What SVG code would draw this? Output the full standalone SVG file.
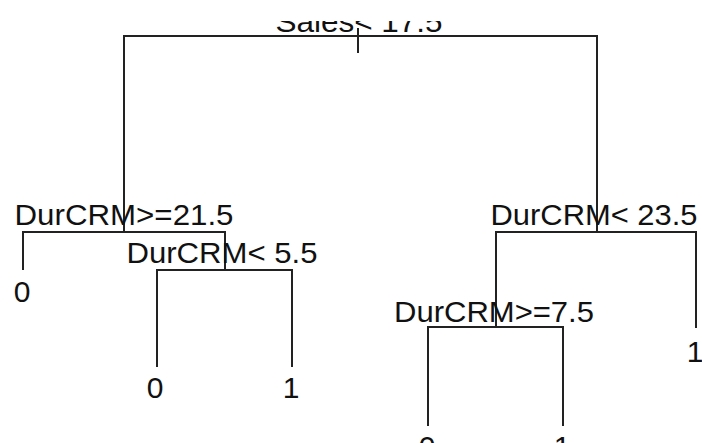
<svg xmlns="http://www.w3.org/2000/svg" width="702" height="443" viewBox="0 0 702 443">
  <style>
    .edge { fill: none; stroke: #222; stroke-width: 2; stroke-linecap: butt; }
    .lbl { font-family: "Liberation Sans", Arial, sans-serif; font-size: 30px; fill: #111; text-anchor: middle; }
  </style>
  <defs>
    <!-- plot region: labels above the top margin are cut off -->
    <clipPath id="plotClip">
      <rect x="0" y="21" width="702" height="422"/>
    </clipPath>
  </defs>
  <rect width="702" height="443" fill="#fff"/>

  <g id="connectors">
    <!-- root split -->
    <path class="edge" d="M124,232 V36 H597 V232"/>
    <path class="edge" d="M358,28 V53"/>
    <!-- DurCRM>=21.5 -->
    <path class="edge" d="M23,270 V232 H225 V270"/>
    <!-- DurCRM< 5.5 -->
    <path class="edge" d="M157,367 V270 H292 V367"/>
    <!-- DurCRM< 23.5 -->
    <path class="edge" d="M496,327 V232 H696 V328"/>
    <!-- DurCRM>=7.5 -->
    <path class="edge" d="M428,426 V327 H563 V426"/>
  </g>

  <g id="node-root" clip-path="url(#plotClip)">
    <text class="lbl" x="359" y="32" textLength="167" lengthAdjust="spacingAndGlyphs">Sales&lt; 17.5</text>
  </g>
  <g id="node-durcrm-21">
    <text class="lbl" x="124" y="225" textLength="219" lengthAdjust="spacingAndGlyphs">DurCRM&gt;=21.5</text>
  </g>
  <g id="node-durcrm-5">
    <text class="lbl" x="222" y="263" textLength="191" lengthAdjust="spacingAndGlyphs">DurCRM&lt; 5.5</text>
  </g>
  <g id="node-durcrm-23">
    <text class="lbl" x="594" y="225" textLength="207" lengthAdjust="spacingAndGlyphs">DurCRM&lt; 23.5</text>
  </g>
  <g id="node-durcrm-7">
    <text class="lbl" x="494" y="322" textLength="200" lengthAdjust="spacingAndGlyphs">DurCRM&gt;=7.5</text>
  </g>

  <g id="leaf-1"><text class="lbl" x="22" y="302">0</text></g>
  <g id="leaf-2"><text class="lbl" x="155" y="398">0</text></g>
  <g id="leaf-3"><text class="lbl" x="291" y="398">1</text></g>
  <g id="leaf-4"><text class="lbl" x="695" y="362">1</text></g>
  <g id="leaf-5"><text class="lbl" x="427" y="457">0</text></g>
  <g id="leaf-6"><text class="lbl" x="562" y="457">1</text></g>
</svg>
